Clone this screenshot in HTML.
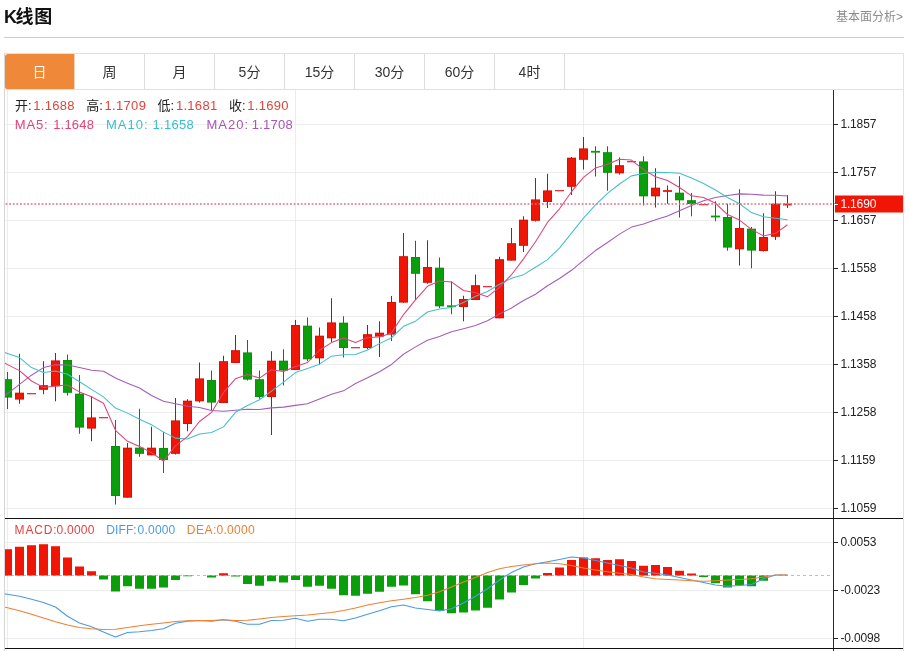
<!DOCTYPE html>
<html lang="zh-CN">
<head>
<meta charset="utf-8">
<title>K线图</title>
<style>
html,body{margin:0;padding:0;background:#fff;}
body{width:908px;height:651px;position:relative;overflow:hidden;font-family:"Liberation Sans","Noto Sans CJK SC",sans-serif;color:#222;}
.title{position:absolute;left:4px;top:5px;font-size:18px;line-height:24px;font-weight:bold;color:#111;}
.more{position:absolute;right:5px;top:7.8px;font-size:12px;line-height:18px;color:#8c8c8c;}
.hr{position:absolute;left:4px;top:37px;width:900px;height:1px;background:#ccc;}
.tabs{position:absolute;left:4px;top:53px;width:899px;height:37px;border-top:1px solid #e0e0e0;border-bottom:1px solid #e0e0e0;border-left:1px solid #d8d8d8;box-sizing:border-box;}
.tab{position:absolute;top:0;width:69px;height:35px;line-height:36px;text-align:center;font-size:14px;color:#333;border-right:1px solid #ddd;}
.tab.on{background:#f0883a;color:#fff;border-right-color:#f8d2b4;border-radius:3px 0 0 2px;}
.lg{position:absolute;font-size:13px;line-height:18px;white-space:pre;}
.k{color:#222;}
.r{color:#e0443e;}
.m5{color:#e0427a;} .m10{color:#35bfd0;} .m20{color:#a855b5;}
.mc{color:#e0443e;} .df{color:#4a9be0;} .de{color:#f08030;}
</style>
</head>
<body>
<div class="title"><span style="letter-spacing:-1.4px">K</span><span style="letter-spacing:0.7px">线</span>图</div>
<div class="more">基本面分析&gt;</div>
<div class="hr"></div>
<div class="tabs">
<div class="tab on" style="left:0">日</div>
<div class="tab" style="left:70px">周</div>
<div class="tab" style="left:140px">月</div>
<div class="tab" style="left:210px">5分</div>
<div class="tab" style="left:280px">15分</div>
<div class="tab" style="left:350px">30分</div>
<div class="tab" style="left:420px">60分</div>
<div class="tab" style="left:490px">4时</div>
</div>
<svg width="908" height="651" viewBox="0 0 908 651" style="position:absolute;left:0;top:0">
<defs><clipPath id="cp"><rect x="5" y="90" width="828" height="560"/></clipPath></defs>
<rect x="5" y="124" width="828" height="1" fill="#ededed"/>
<rect x="5" y="172" width="828" height="1" fill="#ededed"/>
<rect x="5" y="220" width="828" height="1" fill="#ededed"/>
<rect x="5" y="268" width="828" height="1" fill="#ededed"/>
<rect x="5" y="316" width="828" height="1" fill="#ededed"/>
<rect x="5" y="364" width="828" height="1" fill="#ededed"/>
<rect x="5" y="412" width="828" height="1" fill="#ededed"/>
<rect x="5" y="460" width="828" height="1" fill="#ededed"/>
<rect x="5" y="508" width="828" height="1" fill="#ededed"/>
<rect x="5" y="542" width="828" height="1" fill="#ededed"/>
<rect x="5" y="590" width="828" height="1" fill="#ededed"/>
<rect x="5" y="638" width="828" height="1" fill="#ededed"/>
<rect x="7" y="90" width="1" height="559" fill="#e9edf0"/>
<rect x="295" y="90" width="1" height="559" fill="#e9edf0"/>
<rect x="583" y="90" width="1" height="559" fill="#e9edf0"/>
<g clip-path="url(#cp)">
<line x1="5" y1="575.5" x2="833" y2="575.5" stroke="#9ec9e6" stroke-width="1" stroke-dasharray="3,3"/>
<rect x="3.0" y="549.25" width="9" height="26.25" fill="#f01505"/>
<rect x="15.0" y="546.75" width="9" height="28.75" fill="#f01505"/>
<rect x="27.0" y="545.25" width="9" height="30.25" fill="#f01505"/>
<rect x="39.0" y="544.25" width="9" height="31.25" fill="#f01505"/>
<rect x="51.0" y="546.25" width="9" height="29.25" fill="#f01505"/>
<rect x="63.0" y="557.50" width="9" height="18.00" fill="#f01505"/>
<rect x="75.0" y="566.50" width="9" height="9.00" fill="#f01505"/>
<rect x="87.0" y="571.25" width="9" height="4.25" fill="#f01505"/>
<rect x="99.0" y="575.50" width="9" height="4.00" fill="#0a9f0a"/>
<rect x="111.0" y="575.50" width="9" height="16.00" fill="#0a9f0a"/>
<rect x="123.0" y="575.50" width="9" height="10.75" fill="#0a9f0a"/>
<rect x="135.0" y="575.50" width="9" height="13.25" fill="#0a9f0a"/>
<rect x="147.0" y="575.50" width="9" height="13.25" fill="#0a9f0a"/>
<rect x="159.0" y="575.50" width="9" height="12.00" fill="#0a9f0a"/>
<rect x="171.0" y="575.50" width="9" height="4.50" fill="#0a9f0a"/>
<rect x="183.0" y="575.50" width="9" height="0.75" fill="#0a9f0a"/>
<rect x="207.0" y="575.50" width="9" height="2.00" fill="#0a9f0a"/>
<rect x="219.0" y="573.25" width="9" height="2.25" fill="#f01505"/>
<rect x="231.0" y="575.50" width="9" height="1.00" fill="#0a9f0a"/>
<rect x="243.0" y="575.50" width="9" height="8.50" fill="#0a9f0a"/>
<rect x="255.0" y="575.50" width="9" height="10.25" fill="#0a9f0a"/>
<rect x="267.0" y="575.50" width="9" height="5.75" fill="#0a9f0a"/>
<rect x="279.0" y="575.50" width="9" height="7.00" fill="#0a9f0a"/>
<rect x="291.0" y="575.50" width="9" height="4.50" fill="#0a9f0a"/>
<rect x="303.0" y="575.50" width="9" height="11.25" fill="#0a9f0a"/>
<rect x="315.0" y="575.50" width="9" height="10.25" fill="#0a9f0a"/>
<rect x="327.0" y="575.50" width="9" height="13.25" fill="#0a9f0a"/>
<rect x="339.0" y="575.50" width="9" height="19.75" fill="#0a9f0a"/>
<rect x="351.0" y="575.50" width="9" height="20.25" fill="#0a9f0a"/>
<rect x="363.0" y="575.50" width="9" height="18.25" fill="#0a9f0a"/>
<rect x="375.0" y="575.50" width="9" height="16.25" fill="#0a9f0a"/>
<rect x="387.0" y="575.50" width="9" height="11.25" fill="#0a9f0a"/>
<rect x="399.0" y="575.50" width="9" height="10.00" fill="#0a9f0a"/>
<rect x="411.0" y="575.50" width="9" height="18.75" fill="#0a9f0a"/>
<rect x="423.0" y="575.50" width="9" height="25.75" fill="#0a9f0a"/>
<rect x="435.0" y="575.50" width="9" height="35.25" fill="#0a9f0a"/>
<rect x="447.0" y="575.50" width="9" height="37.75" fill="#0a9f0a"/>
<rect x="459.0" y="575.50" width="9" height="37.00" fill="#0a9f0a"/>
<rect x="471.0" y="575.50" width="9" height="35.00" fill="#0a9f0a"/>
<rect x="483.0" y="575.50" width="9" height="32.25" fill="#0a9f0a"/>
<rect x="495.0" y="575.50" width="9" height="24.00" fill="#0a9f0a"/>
<rect x="507.0" y="575.50" width="9" height="17.00" fill="#0a9f0a"/>
<rect x="519.0" y="575.50" width="9" height="9.50" fill="#0a9f0a"/>
<rect x="531.0" y="575.50" width="9" height="3.00" fill="#0a9f0a"/>
<rect x="543.0" y="573.00" width="9" height="2.50" fill="#f01505"/>
<rect x="555.0" y="567.50" width="9" height="8.00" fill="#f01505"/>
<rect x="567.0" y="560.00" width="9" height="15.50" fill="#f01505"/>
<rect x="579.0" y="557.50" width="9" height="18.00" fill="#f01505"/>
<rect x="591.0" y="558.25" width="9" height="17.25" fill="#f01505"/>
<rect x="603.0" y="560.00" width="9" height="15.50" fill="#f01505"/>
<rect x="615.0" y="559.25" width="9" height="16.25" fill="#f01505"/>
<rect x="627.0" y="561.00" width="9" height="14.50" fill="#f01505"/>
<rect x="639.0" y="565.75" width="9" height="9.75" fill="#f01505"/>
<rect x="651.0" y="565.00" width="9" height="10.50" fill="#f01505"/>
<rect x="663.0" y="567.00" width="9" height="8.50" fill="#f01505"/>
<rect x="675.0" y="570.75" width="9" height="4.75" fill="#f01505"/>
<rect x="687.0" y="573.50" width="9" height="2.00" fill="#f01505"/>
<rect x="699.0" y="575.50" width="9" height="1.50" fill="#0a9f0a"/>
<rect x="711.0" y="575.50" width="9" height="7.75" fill="#0a9f0a"/>
<rect x="723.0" y="575.50" width="9" height="12.00" fill="#0a9f0a"/>
<rect x="735.0" y="575.50" width="9" height="9.75" fill="#0a9f0a"/>
<rect x="747.0" y="575.50" width="9" height="10.75" fill="#0a9f0a"/>
<rect x="759.0" y="575.50" width="9" height="5.25" fill="#0a9f0a"/>
<rect x="7.0" y="372.00" width="1" height="37.00" fill="#137a13"/>
<rect x="3.0" y="379.25" width="9" height="18.25" fill="#0a9f0a"/>
<rect x="3.5" y="379.75" width="8" height="17.25" fill="none" stroke="#137a13" stroke-opacity="0.45" stroke-width="1"/>
<rect x="19.0" y="353.75" width="1" height="50.00" fill="#b01208"/>
<rect x="15.0" y="392.75" width="9" height="6.75" fill="#f01505"/>
<rect x="15.5" y="393.25" width="8" height="5.75" fill="none" stroke="#b01208" stroke-opacity="0.45" stroke-width="1"/>
<rect x="27.0" y="393" width="9" height="1.3" fill="#e5363f"/>
<rect x="43.0" y="361.25" width="1" height="33.00" fill="#b01208"/>
<rect x="39.0" y="385.25" width="9" height="4.50" fill="#f01505"/>
<rect x="39.5" y="385.75" width="8" height="3.50" fill="none" stroke="#b01208" stroke-opacity="0.45" stroke-width="1"/>
<rect x="55.0" y="353.00" width="1" height="48.25" fill="#b01208"/>
<rect x="51.0" y="360.50" width="9" height="25.75" fill="#f01505"/>
<rect x="51.5" y="361.00" width="8" height="24.75" fill="none" stroke="#b01208" stroke-opacity="0.45" stroke-width="1"/>
<rect x="67.0" y="354.50" width="1" height="41.00" fill="#137a13"/>
<rect x="63.0" y="360.00" width="9" height="32.75" fill="#0a9f0a"/>
<rect x="63.5" y="360.50" width="8" height="31.75" fill="none" stroke="#137a13" stroke-opacity="0.45" stroke-width="1"/>
<rect x="79.0" y="375.00" width="1" height="58.75" fill="#137a13"/>
<rect x="75.0" y="393.75" width="9" height="33.75" fill="#0a9f0a"/>
<rect x="75.5" y="394.25" width="8" height="32.75" fill="none" stroke="#137a13" stroke-opacity="0.45" stroke-width="1"/>
<rect x="91.0" y="396.25" width="1" height="45.00" fill="#b01208"/>
<rect x="87.0" y="417.50" width="9" height="11.00" fill="#f01505"/>
<rect x="87.5" y="418.00" width="8" height="10.00" fill="none" stroke="#b01208" stroke-opacity="0.45" stroke-width="1"/>
<rect x="99.0" y="417" width="9" height="1.3" fill="#e5363f"/>
<rect x="115.0" y="420.00" width="1" height="84.50" fill="#137a13"/>
<rect x="111.0" y="446.00" width="9" height="50.00" fill="#0a9f0a"/>
<rect x="111.5" y="446.50" width="8" height="49.00" fill="none" stroke="#137a13" stroke-opacity="0.45" stroke-width="1"/>
<rect x="127.0" y="443.00" width="1" height="54.60" fill="#b01208"/>
<rect x="123.0" y="447.75" width="9" height="49.85" fill="#f01505"/>
<rect x="123.5" y="448.25" width="8" height="48.85" fill="none" stroke="#b01208" stroke-opacity="0.45" stroke-width="1"/>
<rect x="139.0" y="408.75" width="1" height="48.00" fill="#137a13"/>
<rect x="135.0" y="447.75" width="9" height="6.00" fill="#0a9f0a"/>
<rect x="135.5" y="448.25" width="8" height="5.00" fill="none" stroke="#137a13" stroke-opacity="0.45" stroke-width="1"/>
<rect x="151.0" y="426.75" width="1" height="28.50" fill="#b01208"/>
<rect x="147.0" y="447.75" width="9" height="7.50" fill="#f01505"/>
<rect x="147.5" y="448.25" width="8" height="6.50" fill="none" stroke="#b01208" stroke-opacity="0.45" stroke-width="1"/>
<rect x="163.0" y="431.75" width="1" height="41.25" fill="#137a13"/>
<rect x="159.0" y="448.00" width="9" height="12.00" fill="#0a9f0a"/>
<rect x="159.5" y="448.50" width="8" height="11.00" fill="none" stroke="#137a13" stroke-opacity="0.45" stroke-width="1"/>
<rect x="175.0" y="398.00" width="1" height="56.50" fill="#b01208"/>
<rect x="171.0" y="420.50" width="9" height="33.25" fill="#f01505"/>
<rect x="171.5" y="421.00" width="8" height="32.25" fill="none" stroke="#b01208" stroke-opacity="0.45" stroke-width="1"/>
<rect x="187.0" y="399.25" width="1" height="32.00" fill="#b01208"/>
<rect x="183.0" y="400.75" width="9" height="23.25" fill="#f01505"/>
<rect x="183.5" y="401.25" width="8" height="22.25" fill="none" stroke="#b01208" stroke-opacity="0.45" stroke-width="1"/>
<rect x="199.0" y="362.50" width="1" height="40.00" fill="#b01208"/>
<rect x="195.0" y="378.50" width="9" height="22.75" fill="#f01505"/>
<rect x="195.5" y="379.00" width="8" height="21.75" fill="none" stroke="#b01208" stroke-opacity="0.45" stroke-width="1"/>
<rect x="211.0" y="370.50" width="1" height="39.50" fill="#137a13"/>
<rect x="207.0" y="380.00" width="9" height="22.50" fill="#0a9f0a"/>
<rect x="207.5" y="380.50" width="8" height="21.50" fill="none" stroke="#137a13" stroke-opacity="0.45" stroke-width="1"/>
<rect x="223.0" y="355.75" width="1" height="47.25" fill="#b01208"/>
<rect x="219.0" y="361.25" width="9" height="41.75" fill="#f01505"/>
<rect x="219.5" y="361.75" width="8" height="40.75" fill="none" stroke="#b01208" stroke-opacity="0.45" stroke-width="1"/>
<rect x="235.0" y="335.00" width="1" height="28.00" fill="#b01208"/>
<rect x="231.0" y="350.25" width="9" height="12.75" fill="#f01505"/>
<rect x="231.5" y="350.75" width="8" height="11.75" fill="none" stroke="#b01208" stroke-opacity="0.45" stroke-width="1"/>
<rect x="247.0" y="340.00" width="1" height="40.50" fill="#137a13"/>
<rect x="243.0" y="352.50" width="9" height="27.00" fill="#0a9f0a"/>
<rect x="243.5" y="353.00" width="8" height="26.00" fill="none" stroke="#137a13" stroke-opacity="0.45" stroke-width="1"/>
<rect x="259.0" y="370.50" width="1" height="28.25" fill="#137a13"/>
<rect x="255.0" y="379.25" width="9" height="17.75" fill="#0a9f0a"/>
<rect x="255.5" y="379.75" width="8" height="16.75" fill="none" stroke="#137a13" stroke-opacity="0.45" stroke-width="1"/>
<rect x="271.0" y="351.25" width="1" height="83.75" fill="#b01208"/>
<rect x="267.0" y="360.75" width="9" height="36.25" fill="#f01505"/>
<rect x="267.5" y="361.25" width="8" height="35.25" fill="none" stroke="#b01208" stroke-opacity="0.45" stroke-width="1"/>
<rect x="283.0" y="349.25" width="1" height="36.25" fill="#137a13"/>
<rect x="279.0" y="360.75" width="9" height="9.75" fill="#0a9f0a"/>
<rect x="279.5" y="361.25" width="8" height="8.75" fill="none" stroke="#137a13" stroke-opacity="0.45" stroke-width="1"/>
<rect x="295.0" y="320.00" width="1" height="50.00" fill="#b01208"/>
<rect x="291.0" y="325.00" width="9" height="45.00" fill="#f01505"/>
<rect x="291.5" y="325.50" width="8" height="44.00" fill="none" stroke="#b01208" stroke-opacity="0.45" stroke-width="1"/>
<rect x="307.0" y="317.50" width="1" height="43.75" fill="#137a13"/>
<rect x="303.0" y="325.75" width="9" height="33.50" fill="#0a9f0a"/>
<rect x="303.5" y="326.25" width="8" height="32.50" fill="none" stroke="#137a13" stroke-opacity="0.45" stroke-width="1"/>
<rect x="319.0" y="327.50" width="1" height="36.75" fill="#b01208"/>
<rect x="315.0" y="335.75" width="9" height="22.50" fill="#f01505"/>
<rect x="315.5" y="336.25" width="8" height="21.50" fill="none" stroke="#b01208" stroke-opacity="0.45" stroke-width="1"/>
<rect x="331.0" y="298.25" width="1" height="43.75" fill="#b01208"/>
<rect x="327.0" y="322.50" width="9" height="15.75" fill="#f01505"/>
<rect x="327.5" y="323.00" width="8" height="14.75" fill="none" stroke="#b01208" stroke-opacity="0.45" stroke-width="1"/>
<rect x="343.0" y="316.25" width="1" height="41.25" fill="#137a13"/>
<rect x="339.0" y="322.75" width="9" height="25.25" fill="#0a9f0a"/>
<rect x="339.5" y="323.25" width="8" height="24.25" fill="none" stroke="#137a13" stroke-opacity="0.45" stroke-width="1"/>
<rect x="351.0" y="347" width="9" height="1.3" fill="#e5363f"/>
<rect x="367.0" y="325.00" width="1" height="24.25" fill="#b01208"/>
<rect x="363.0" y="334.25" width="9" height="13.75" fill="#f01505"/>
<rect x="363.5" y="334.75" width="8" height="12.75" fill="none" stroke="#b01208" stroke-opacity="0.45" stroke-width="1"/>
<rect x="379.0" y="321.25" width="1" height="35.75" fill="#b01208"/>
<rect x="375.0" y="332.75" width="9" height="3.75" fill="#f01505"/>
<rect x="375.5" y="333.25" width="8" height="2.75" fill="none" stroke="#b01208" stroke-opacity="0.45" stroke-width="1"/>
<rect x="391.0" y="296.00" width="1" height="45.00" fill="#b01208"/>
<rect x="387.0" y="302.00" width="9" height="32.50" fill="#f01505"/>
<rect x="387.5" y="302.50" width="8" height="31.50" fill="none" stroke="#b01208" stroke-opacity="0.45" stroke-width="1"/>
<rect x="403.0" y="233.00" width="1" height="70.00" fill="#b01208"/>
<rect x="399.0" y="256.25" width="9" height="46.25" fill="#f01505"/>
<rect x="399.5" y="256.75" width="8" height="45.25" fill="none" stroke="#b01208" stroke-opacity="0.45" stroke-width="1"/>
<rect x="415.0" y="240.75" width="1" height="59.25" fill="#137a13"/>
<rect x="411.0" y="257.00" width="9" height="16.75" fill="#0a9f0a"/>
<rect x="411.5" y="257.50" width="8" height="15.75" fill="none" stroke="#137a13" stroke-opacity="0.45" stroke-width="1"/>
<rect x="427.0" y="240.25" width="1" height="43.50" fill="#b01208"/>
<rect x="423.0" y="267.00" width="9" height="15.75" fill="#f01505"/>
<rect x="423.5" y="267.50" width="8" height="14.75" fill="none" stroke="#b01208" stroke-opacity="0.45" stroke-width="1"/>
<rect x="439.0" y="257.50" width="1" height="50.50" fill="#137a13"/>
<rect x="435.0" y="267.75" width="9" height="38.50" fill="#0a9f0a"/>
<rect x="435.5" y="268.25" width="8" height="37.50" fill="none" stroke="#137a13" stroke-opacity="0.45" stroke-width="1"/>
<rect x="451.0" y="281.25" width="1" height="33.00" fill="#137a13"/>
<rect x="447.0" y="305.35" width="9" height="1.8" fill="#0a9f0a"/>
<rect x="463.0" y="295.75" width="1" height="25.50" fill="#b01208"/>
<rect x="459.0" y="299.00" width="9" height="8.00" fill="#f01505"/>
<rect x="459.5" y="299.50" width="8" height="7.00" fill="none" stroke="#b01208" stroke-opacity="0.45" stroke-width="1"/>
<rect x="475.0" y="274.50" width="1" height="25.50" fill="#b01208"/>
<rect x="471.0" y="285.25" width="9" height="14.75" fill="#f01505"/>
<rect x="471.5" y="285.75" width="8" height="13.75" fill="none" stroke="#b01208" stroke-opacity="0.45" stroke-width="1"/>
<rect x="483.0" y="286" width="9" height="1.3" fill="#e5363f"/>
<rect x="499.0" y="256.75" width="1" height="61.50" fill="#b01208"/>
<rect x="495.0" y="259.25" width="9" height="59.00" fill="#f01505"/>
<rect x="495.5" y="259.75" width="8" height="58.00" fill="none" stroke="#b01208" stroke-opacity="0.45" stroke-width="1"/>
<rect x="511.0" y="228.00" width="1" height="32.50" fill="#b01208"/>
<rect x="507.0" y="243.25" width="9" height="17.25" fill="#f01505"/>
<rect x="507.5" y="243.75" width="8" height="16.25" fill="none" stroke="#b01208" stroke-opacity="0.45" stroke-width="1"/>
<rect x="523.0" y="216.25" width="1" height="35.75" fill="#b01208"/>
<rect x="519.0" y="219.75" width="9" height="26.00" fill="#f01505"/>
<rect x="519.5" y="220.25" width="8" height="25.00" fill="none" stroke="#b01208" stroke-opacity="0.45" stroke-width="1"/>
<rect x="535.0" y="178.00" width="1" height="43.50" fill="#b01208"/>
<rect x="531.0" y="199.50" width="9" height="21.25" fill="#f01505"/>
<rect x="531.5" y="200.00" width="8" height="20.25" fill="none" stroke="#b01208" stroke-opacity="0.45" stroke-width="1"/>
<rect x="547.0" y="173.75" width="1" height="34.25" fill="#b01208"/>
<rect x="543.0" y="190.50" width="9" height="11.50" fill="#f01505"/>
<rect x="543.5" y="191.00" width="8" height="10.50" fill="none" stroke="#b01208" stroke-opacity="0.45" stroke-width="1"/>
<rect x="555.0" y="190" width="9" height="1.3" fill="#e5363f"/>
<rect x="571.0" y="157.00" width="1" height="38.00" fill="#b01208"/>
<rect x="567.0" y="157.75" width="9" height="29.00" fill="#f01505"/>
<rect x="567.5" y="158.25" width="8" height="28.00" fill="none" stroke="#b01208" stroke-opacity="0.45" stroke-width="1"/>
<rect x="583.0" y="137.00" width="1" height="32.50" fill="#b01208"/>
<rect x="579.0" y="148.50" width="9" height="11.25" fill="#f01505"/>
<rect x="579.5" y="149.00" width="8" height="10.25" fill="none" stroke="#b01208" stroke-opacity="0.45" stroke-width="1"/>
<rect x="595.0" y="146.25" width="1" height="30.25" fill="#137a13"/>
<rect x="591.0" y="150.85" width="9" height="1.8" fill="#0a9f0a"/>
<rect x="607.0" y="146.25" width="1" height="44.50" fill="#137a13"/>
<rect x="603.0" y="152.25" width="9" height="20.50" fill="#0a9f0a"/>
<rect x="603.5" y="152.75" width="8" height="19.50" fill="none" stroke="#137a13" stroke-opacity="0.45" stroke-width="1"/>
<rect x="619.0" y="157.50" width="1" height="17.00" fill="#b01208"/>
<rect x="615.0" y="165.25" width="9" height="8.00" fill="#f01505"/>
<rect x="615.5" y="165.75" width="8" height="7.00" fill="none" stroke="#b01208" stroke-opacity="0.45" stroke-width="1"/>
<rect x="627.0" y="161" width="9" height="1.3" fill="#e5363f"/>
<rect x="643.0" y="156.25" width="1" height="49.25" fill="#137a13"/>
<rect x="639.0" y="161.50" width="9" height="34.75" fill="#0a9f0a"/>
<rect x="639.5" y="162.00" width="8" height="33.75" fill="none" stroke="#137a13" stroke-opacity="0.45" stroke-width="1"/>
<rect x="655.0" y="168.25" width="1" height="39.25" fill="#b01208"/>
<rect x="651.0" y="187.75" width="9" height="8.50" fill="#f01505"/>
<rect x="651.5" y="188.25" width="8" height="7.50" fill="none" stroke="#b01208" stroke-opacity="0.45" stroke-width="1"/>
<rect x="667.0" y="185.50" width="1" height="18.25" fill="#b01208"/>
<rect x="663.0" y="190.10" width="9" height="1.8" fill="#f01505"/>
<rect x="679.0" y="176.25" width="1" height="41.25" fill="#137a13"/>
<rect x="675.0" y="192.75" width="9" height="7.50" fill="#0a9f0a"/>
<rect x="675.5" y="193.25" width="8" height="6.50" fill="none" stroke="#137a13" stroke-opacity="0.45" stroke-width="1"/>
<rect x="691.0" y="193.00" width="1" height="23.25" fill="#137a13"/>
<rect x="687.0" y="200.25" width="9" height="3.75" fill="#0a9f0a"/>
<rect x="687.5" y="200.75" width="8" height="2.75" fill="none" stroke="#137a13" stroke-opacity="0.45" stroke-width="1"/>
<rect x="699.0" y="204" width="9" height="1.3" fill="#e5363f"/>
<rect x="715.0" y="201.25" width="1" height="20.00" fill="#137a13"/>
<rect x="711.0" y="215.60" width="9" height="1.8" fill="#0a9f0a"/>
<rect x="727.0" y="203.75" width="1" height="47.00" fill="#137a13"/>
<rect x="723.0" y="217.00" width="9" height="30.50" fill="#0a9f0a"/>
<rect x="723.5" y="217.50" width="8" height="29.50" fill="none" stroke="#137a13" stroke-opacity="0.45" stroke-width="1"/>
<rect x="739.0" y="189.25" width="1" height="76.25" fill="#b01208"/>
<rect x="735.0" y="228.00" width="9" height="21.25" fill="#f01505"/>
<rect x="735.5" y="228.50" width="8" height="20.25" fill="none" stroke="#b01208" stroke-opacity="0.45" stroke-width="1"/>
<rect x="751.0" y="227.00" width="1" height="41.25" fill="#137a13"/>
<rect x="747.0" y="228.75" width="9" height="21.75" fill="#0a9f0a"/>
<rect x="747.5" y="229.25" width="8" height="20.75" fill="none" stroke="#137a13" stroke-opacity="0.45" stroke-width="1"/>
<rect x="763.0" y="213.25" width="1" height="38.25" fill="#b01208"/>
<rect x="759.0" y="237.00" width="9" height="14.00" fill="#f01505"/>
<rect x="759.5" y="237.50" width="8" height="13.00" fill="none" stroke="#b01208" stroke-opacity="0.45" stroke-width="1"/>
<rect x="775.0" y="191.25" width="1" height="48.75" fill="#b01208"/>
<rect x="771.0" y="203.75" width="9" height="33.00" fill="#f01505"/>
<rect x="771.5" y="204.25" width="8" height="32.00" fill="none" stroke="#b01208" stroke-opacity="0.45" stroke-width="1"/>
<rect x="787.0" y="195.00" width="1" height="13.00" fill="#b01208"/>
<rect x="783.0" y="203.60" width="9" height="1.8" fill="#f01505"/>
<polyline points="-4.5,402.80 7.5,393.60 19.5,384.40 31.5,375.20 43.5,367.60 55.5,364.80 67.5,365.10 79.5,367.60 91.5,370.30 103.5,371.30 115.5,378.00 127.5,383.20 139.5,388.00 151.5,395.50 163.5,401.25 175.5,403.75 187.5,406.25 199.5,407.50 211.5,410.50 223.5,411.25 235.5,410.20 247.5,409.30 259.5,409.51 271.5,407.88 283.5,407.14 295.5,405.36 307.5,403.69 319.5,399.10 331.5,394.35 343.5,390.86 355.5,383.44 367.5,377.76 379.5,371.71 391.5,364.43 403.5,354.24 415.5,346.90 427.5,340.21 439.5,336.60 451.5,331.79 463.5,328.68 475.5,325.43 487.5,320.79 499.5,313.90 511.5,308.02 523.5,300.49 535.5,294.21 547.5,285.77 559.5,278.54 571.5,270.30 583.5,260.32 595.5,250.54 607.5,242.46 619.5,234.09 631.5,227.09 643.5,224.09 655.5,219.79 667.5,215.99 679.5,210.69 691.5,205.57 703.5,200.85 715.5,197.41 727.5,195.45 739.5,193.89 751.5,194.25 763.5,195.11 775.5,195.32 787.5,196.03" fill="none" stroke="#a45cb6" stroke-width="1.05" stroke-linejoin="round" />
<polyline points="-4.5,349.60 7.5,353.40 19.5,357.60 31.5,367.60 43.5,372.60 55.5,371.00 67.5,374.30 79.5,381.80 91.5,389.40 103.5,396.90 115.5,408.10 127.5,413.12 139.5,419.23 151.5,424.65 163.5,432.12 175.5,438.12 187.5,438.93 199.5,434.02 211.5,432.52 223.5,426.88 235.5,412.30 247.5,405.48 259.5,399.80 271.5,391.10 283.5,382.15 295.5,372.60 307.5,368.45 319.5,364.18 331.5,356.18 343.5,354.85 355.5,354.57 367.5,350.05 379.5,343.62 391.5,337.75 403.5,326.32 415.5,321.20 427.5,311.98 439.5,309.02 451.5,307.40 463.5,302.50 475.5,296.27 487.5,291.52 499.5,284.18 511.5,278.30 523.5,274.65 535.5,267.23 547.5,259.57 559.5,248.05 571.5,233.20 583.5,218.15 595.5,204.80 607.5,193.40 619.5,184.00 631.5,175.88 643.5,173.53 655.5,172.35 667.5,172.40 679.5,173.32 691.5,177.95 703.5,183.55 715.5,190.03 727.5,197.50 739.5,203.78 751.5,212.62 763.5,216.70 775.5,218.30 787.5,219.65" fill="none" stroke="#45bfcc" stroke-width="1.05" stroke-linejoin="round" />
<polyline points="-4.5,357.50 7.5,364.60 19.5,370.60 31.5,381.00 43.5,387.40 55.5,385.90 67.5,384.95 79.5,391.90 91.5,396.70 103.5,403.20 115.5,430.30 127.5,441.30 139.5,446.55 151.5,452.60 163.5,461.05 175.5,445.95 187.5,436.55 199.5,421.50 211.5,412.45 223.5,392.70 235.5,378.65 247.5,374.40 259.5,378.10 271.5,369.75 283.5,371.60 295.5,366.55 307.5,362.50 319.5,350.25 331.5,342.60 343.5,338.10 355.5,342.60 367.5,337.60 379.5,337.00 391.5,332.90 403.5,314.55 415.5,299.80 427.5,286.35 439.5,281.05 451.5,281.90 463.5,290.45 475.5,292.75 487.5,296.70 499.5,287.30 511.5,274.70 523.5,258.85 535.5,241.70 547.5,222.45 559.5,208.80 571.5,191.70 583.5,177.45 595.5,167.90 607.5,164.35 619.5,159.20 631.5,160.05 643.5,169.60 655.5,176.80 667.5,180.45 679.5,187.45 691.5,195.85 703.5,197.50 715.5,203.25 727.5,214.55 739.5,220.10 751.5,229.40 763.5,235.90 775.5,233.35 787.5,224.75" fill="none" stroke="#dc4678" stroke-width="1.05" stroke-linejoin="round" />
<polyline points="-4.5,592.30 7.5,594.30 19.5,596.25 31.5,599.25 43.5,602.50 55.5,607.00 67.5,616.25 79.5,623.00 91.5,626.75 103.5,632.00 115.5,637.00 127.5,632.50 139.5,631.75 151.5,630.50 163.5,628.75 175.5,623.25 187.5,621.25 199.5,620.50 211.5,621.25 223.5,619.75 235.5,621.25 247.5,624.25 259.5,624.25 271.5,620.50 283.5,620.25 295.5,618.25 307.5,621.25 319.5,619.25 331.5,619.25 343.5,620.75 355.5,618.00 367.5,614.25 379.5,610.75 391.5,606.75 403.5,605.00 415.5,608.00 427.5,609.50 439.5,611.00 451.5,608.75 463.5,603.00 475.5,596.25 487.5,588.75 499.5,580.00 511.5,572.50 523.5,567.00 535.5,563.75 547.5,561.75 559.5,559.50 571.5,557.00 583.5,558.00 595.5,560.50 607.5,563.00 619.5,565.50 631.5,568.00 643.5,572.00 655.5,573.25 667.5,575.00 679.5,577.50 691.5,580.00 703.5,582.50 715.5,585.00 727.5,586.25 739.5,585.50 751.5,584.50 763.5,578.75 775.5,575.00 787.5,575.00" fill="none" stroke="#4a9be0" stroke-width="1.05" stroke-linejoin="round" />
<polyline points="-4.5,604.80 7.5,607.80 19.5,610.75 31.5,614.25 43.5,618.00 55.5,621.75 67.5,625.00 79.5,627.50 91.5,628.75 103.5,629.50 115.5,629.25 127.5,627.50 139.5,625.75 151.5,624.25 163.5,623.00 175.5,621.50 187.5,620.75 199.5,620.50 211.5,620.50 223.5,619.75 235.5,620.50 247.5,620.25 259.5,619.00 271.5,617.50 283.5,616.50 295.5,615.75 307.5,615.00 319.5,613.75 331.5,612.50 343.5,610.50 355.5,608.00 367.5,605.00 379.5,602.75 391.5,600.75 403.5,599.25 415.5,597.50 427.5,595.25 439.5,591.75 451.5,587.00 463.5,582.00 475.5,577.50 487.5,572.50 499.5,568.75 511.5,566.50 523.5,565.00 535.5,563.75 547.5,563.00 559.5,563.75 571.5,565.50 583.5,568.00 595.5,570.00 607.5,571.75 619.5,573.25 631.5,574.50 643.5,577.00 655.5,578.75 667.5,579.50 679.5,580.00 691.5,580.75 703.5,581.25 715.5,580.75 727.5,580.00 739.5,579.50 751.5,578.75 763.5,577.00 775.5,575.00 787.5,575.00" fill="none" stroke="#f08030" stroke-width="1.05" stroke-linejoin="round" />
</g>
<line x1="5.6" y1="204.1" x2="835" y2="204.1" stroke="#d6727c" stroke-width="1.5" stroke-dasharray="1.8,1.8"/>
<rect x="4" y="90" width="1" height="561" fill="#d6d6d6"/>
<rect x="903" y="53" width="1" height="598" fill="#e2e2e2"/>
<rect x="833" y="90" width="1" height="561" fill="#2a2a2a"/>
<rect x="5" y="518" width="898" height="1" fill="#111"/>
<rect x="5" y="648" width="898" height="1" fill="#111"/>
<rect x="834" y="124" width="4" height="1" fill="#222"/>
<text x="840.4" y="128.1" font-family="Liberation Sans, sans-serif" font-size="12" fill="#222" letter-spacing="-0.15">1.1857</text>
<rect x="834" y="172" width="4" height="1" fill="#222"/>
<text x="840.4" y="176.1" font-family="Liberation Sans, sans-serif" font-size="12" fill="#222" letter-spacing="-0.15">1.1757</text>
<rect x="834" y="220" width="4" height="1" fill="#222"/>
<text x="840.4" y="224.1" font-family="Liberation Sans, sans-serif" font-size="12" fill="#222" letter-spacing="-0.15">1.1657</text>
<rect x="834" y="268" width="4" height="1" fill="#222"/>
<text x="840.4" y="272.1" font-family="Liberation Sans, sans-serif" font-size="12" fill="#222" letter-spacing="-0.15">1.1558</text>
<rect x="834" y="316" width="4" height="1" fill="#222"/>
<text x="840.4" y="320.1" font-family="Liberation Sans, sans-serif" font-size="12" fill="#222" letter-spacing="-0.15">1.1458</text>
<rect x="834" y="364" width="4" height="1" fill="#222"/>
<text x="840.4" y="368.1" font-family="Liberation Sans, sans-serif" font-size="12" fill="#222" letter-spacing="-0.15">1.1358</text>
<rect x="834" y="412" width="4" height="1" fill="#222"/>
<text x="840.4" y="416.1" font-family="Liberation Sans, sans-serif" font-size="12" fill="#222" letter-spacing="-0.15">1.1258</text>
<rect x="834" y="460" width="4" height="1" fill="#222"/>
<text x="840.4" y="464.1" font-family="Liberation Sans, sans-serif" font-size="12" fill="#222" letter-spacing="-0.15">1.1159</text>
<rect x="834" y="508" width="4" height="1" fill="#222"/>
<text x="840.4" y="512.1" font-family="Liberation Sans, sans-serif" font-size="12" fill="#222" letter-spacing="-0.15">1.1059</text>
<rect x="834" y="542" width="4" height="1" fill="#222"/>
<text x="840.4" y="546.1" font-family="Liberation Sans, sans-serif" font-size="12" fill="#222" letter-spacing="-0.15">0.0053</text>
<rect x="834" y="590" width="4" height="1" fill="#222"/>
<text x="840.4" y="594.1" font-family="Liberation Sans, sans-serif" font-size="12" fill="#222" letter-spacing="-0.15">-0.0023</text>
<rect x="834" y="638" width="4" height="1" fill="#222"/>
<text x="840.4" y="642.1" font-family="Liberation Sans, sans-serif" font-size="12" fill="#222" letter-spacing="-0.15">-0.0098</text>
<rect x="835" y="195.5" width="68" height="17" fill="#f01505"/>
<rect x="834" y="204" width="4" height="1" fill="#fff"/>
<text x="840.4" y="208.1" font-family="Liberation Sans, sans-serif" font-size="12" fill="#fff" letter-spacing="-0.15">1.1690</text>
</svg>
<span class="lg k" style="left:15.0px;top:97.2px;font-size:13px;">开:</span>
<span class="lg r" style="left:33.3px;top:97.2px;font-size:13px;letter-spacing:0.3px;">1.1688</span>
<span class="lg k" style="left:86.3px;top:97.2px;font-size:13px;">高:</span>
<span class="lg r" style="left:104.6px;top:97.2px;font-size:13px;letter-spacing:0.3px;">1.1709</span>
<span class="lg k" style="left:157.6px;top:97.2px;font-size:13px;">低:</span>
<span class="lg r" style="left:175.89999999999998px;top:97.2px;font-size:13px;letter-spacing:0.3px;">1.1681</span>
<span class="lg k" style="left:228.89999999999998px;top:97.2px;font-size:13px;">收:</span>
<span class="lg r" style="left:247.2px;top:97.2px;font-size:13px;letter-spacing:0.3px;">1.1690</span>
<span class="lg m5" style="left:14.7px;top:115.7px;font-size:13px;letter-spacing:0.9px;">MA5:</span>
<span class="lg m5" style="left:53.2px;top:115.7px;font-size:13px;letter-spacing:0.2px;">1.1648</span>
<span class="lg m10" style="left:106px;top:115.7px;font-size:13px;letter-spacing:1.0px;">MA10:</span>
<span class="lg m10" style="left:152.6px;top:115.7px;font-size:13px;letter-spacing:0.25px;">1.1658</span>
<span class="lg m20" style="left:206.5px;top:115.7px;font-size:13px;letter-spacing:1.0px;">MA20:</span>
<span class="lg m20" style="left:251.7px;top:115.7px;font-size:13px;letter-spacing:0.25px;">1.1708</span>
<span class="lg mc" style="left:14.6px;top:521px;font-size:12px;letter-spacing:0.8px;">MACD:</span>
<span class="lg mc" style="left:56.5px;top:521px;font-size:12px;letter-spacing:0.25px;">0.0000</span>
<span class="lg df" style="left:106.3px;top:521px;font-size:12px;letter-spacing:0.1px;">DIFF:</span>
<span class="lg df" style="left:137.6px;top:521px;font-size:12px;letter-spacing:0.2px;">0.0000</span>
<span class="lg de" style="left:186.7px;top:521px;font-size:12px;letter-spacing:0.55px;">DEA:</span>
<span class="lg de" style="left:216.5px;top:521px;font-size:12px;letter-spacing:0.3px;">0.0000</span>
</body>
</html>
